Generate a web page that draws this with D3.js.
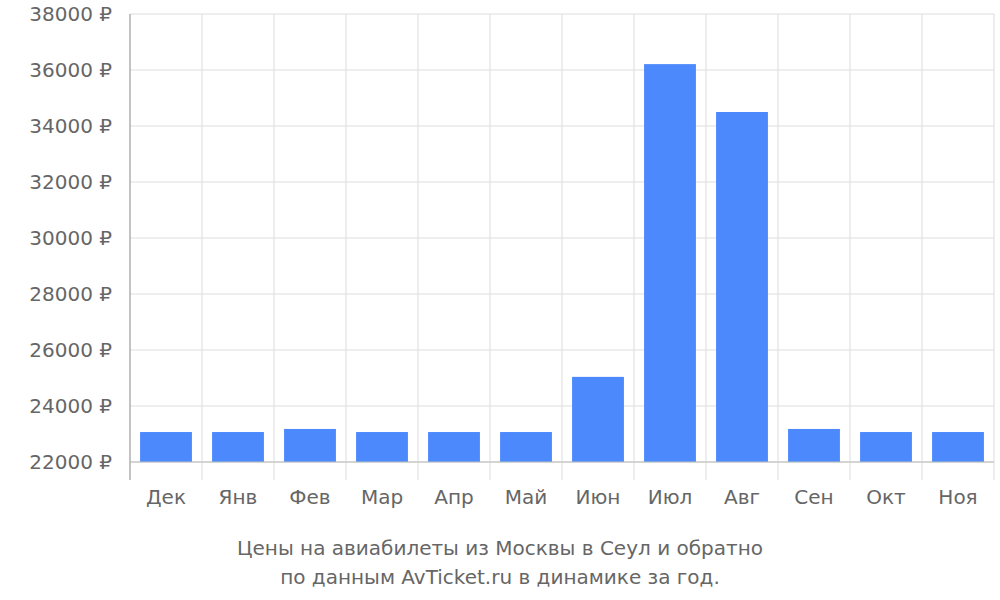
<!DOCTYPE html>
<html><head><meta charset="utf-8">
<script src="https://cdn.jsdelivr.net/npm/d3@7"></script>
<style>body{margin:0;background:#fff}text{font-family:"DejaVu Sans",sans-serif;fill:#666}</style>
</head><body><svg id="c" width="1000" height="600"></svg>
<script>
var months = ["Дек","Янв","Фев","Мар","Апр","Май","Июн","Июл","Авг","Сен","Окт","Ноя"];
var prices = [23070, 23070, 23180, 23070, 23070, 23070, 25040, 36210, 34500, 23180, 23070, 23070];
var yTicks = [22000, 24000, 26000, 28000, 30000, 32000, 34000, 36000, 38000];
var titleLines = ["Цены на авиабилеты из Москвы в Сеул и обратно", "по данным AvTicket.ru в динамике за год."];

var svg = d3.select("#c");
var L = 130, R = 994, T = 14, B = 462;
var x = d3.scaleBand().domain(months).range([L, R]).paddingInner(0.28).paddingOuter(0.14);
var xb = d3.scaleBand().domain(months).range([L, R]);
var y = d3.scaleLinear().domain([22000, 38000]).range([B, T]);

// horizontal grid
svg.selectAll(".hg").data(yTicks).enter().append("line")
    .attr("x1", L).attr("x2", R).attr("y1", d => y(d)).attr("y2", d => y(d))
    .attr("stroke", "#ddd");
// vertical grid
var vx = months.map(m => xb(m)).concat([R]);
svg.selectAll(".vg").data(vx).enter().append("line")
    .attr("x1", d => d).attr("x2", d => d).attr("y1", T).attr("y2", 480)
    .attr("stroke", "#ddd");

svg.selectAll(".bar").data(prices).enter().append("rect")
    .attr("x", (d, i) => x(months[i])).attr("width", x.bandwidth())
    .attr("y", d => y(d)).attr("height", d => B - y(d))
    .attr("fill", "#4b89fc");

svg.append("line").attr("x1", L).attr("x2", L).attr("y1", T).attr("y2", 480).attr("stroke", "#999");
svg.append("line").attr("x1", L).attr("x2", R).attr("y1", B).attr("y2", B).attr("stroke", "#bbb");

svg.selectAll(".yl").data(yTicks).enter().append("text")
    .attr("x", 112).attr("y", d => y(d) + 7).attr("text-anchor", "end")
    .style("font-size", "20px").text(d => d + " ₽");

svg.selectAll(".xl").data(months).enter().append("text")
    .attr("x", d => xb(d) + xb.bandwidth() / 2).attr("y", 504).attr("text-anchor", "middle")
    .style("font-size", "20px").text(d => d);

svg.selectAll(".tl").data(titleLines).enter().append("text")
    .attr("x", 500).attr("y", (d, i) => 555 + i * 29).attr("text-anchor", "middle")
    .style("font-size", "20px").text(d => d);
</script></body></html>
